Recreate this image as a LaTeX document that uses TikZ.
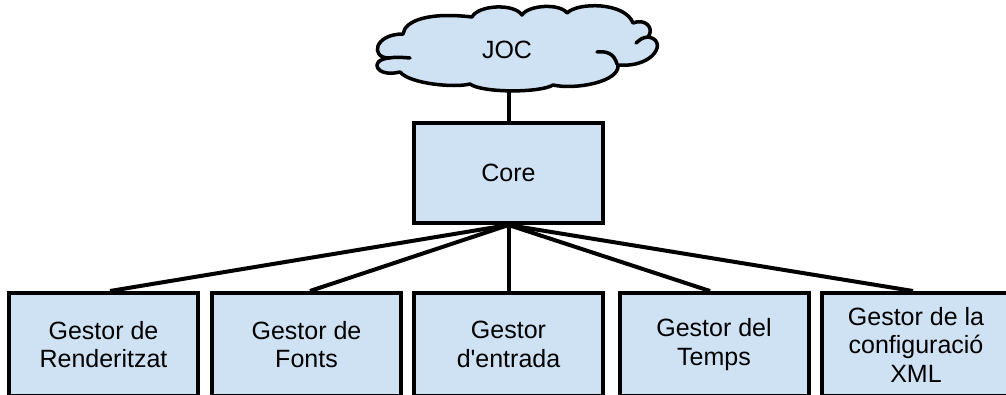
\documentclass[tikz,border=0pt]{standalone}
\usepackage{fontspec}
\setmainfont{Liberation Sans}
\definecolor{boxfill}{HTML}{CFE2F3}
\tikzset{
  gbox/.style={draw=black, fill=boxfill, line width=4pt, minimum width=189pt,
    minimum height=103pt, inner sep=0pt, align=center,
    font=\fontsize{25}{28.5}\selectfont},
  corebox/.style={gbox, minimum height=100pt},
  cloudline/.style={draw=black, fill=boxfill, line width=3.5pt, line join=round},
  curl/.style={line width=3.5pt, line cap=round},
  conn/.style={line width=4pt}
}
\begin{document}
\begin{tikzpicture}[x=1pt,y=-1pt]
\useasboundingbox (0,0) rectangle (1006,394);
% cloud outline
\path[cloudline] (389,58)
  .. controls (370,58) and (374,34) .. (403,34)
  .. controls (405,20) and (430,12) .. (472,17)
  .. controls (478,5) and (514,3) .. (522,15)
  .. controls (528,5) and (560,3) .. (567,13)
  .. controls (578,2) and (625,2) .. (633,23)
  .. controls (645,18) and (655,28) .. (648,37)
  .. controls (668,40) and (655,68) .. (618,65)
  .. controls (620,82) and (575,90) .. (553,85)
  .. controls (540,93) and (482,93) .. (470,84)
  .. controls (455,88) and (410,84) .. (400,72)
  .. controls (376,78) and (368,60) .. (389,58) -- cycle;
\draw[curl] (389,58) .. controls (397,57) .. (410,58);
\draw[curl] (617,64) .. controls (614,53) and (606,51) .. (597,52);
\draw[curl] (648,37) .. controls (642,38) .. (636,43);
\coordinate (cloudbot) at (508.5,89);
\node[font=\fontsize{25}{28.5}\selectfont] (joc) at (507,50) {JOC};
\node[corebox] (core) at (508.5,173) {Core};
\node[gbox] (b1) at (103.5,344.5) {Gestor de\\Renderitzat};
\node[gbox] (b2) at (306.5,344.5) {Gestor de\\Fonts};
\node[gbox] (b3) at (508.5,344.5) {Gestor\\d\textquotesingle entrada};
\node[gbox] (b4) at (714,344.5) {Gestor del\\Temps};
\node[gbox] (b5) at (916,344.5) {Gestor de la\\configuració\\XML};
\draw[conn] (core.north) -- (cloudbot);
\draw[conn] (core.south) -- ([xshift=6.5pt]b1.north);
\draw[conn] (core.south) -- ([xshift=3.5pt]b2.north);
\draw[conn] (core.south) -- (b3.north);
\draw[conn] (core.south) -- ([xshift=-4pt]b4.north);
\draw[conn] (core.south) -- ([xshift=-3pt]b5.north);
\end{tikzpicture}
\end{document}
